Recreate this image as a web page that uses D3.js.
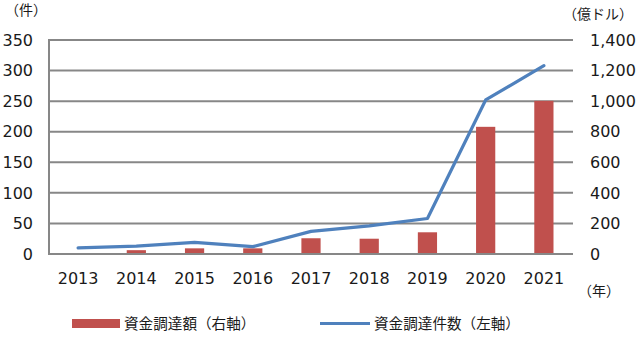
<!DOCTYPE html>
<html>
<head>
<meta charset="utf-8">
<script src="https://cdn.jsdelivr.net/npm/d3@7"></script>
<style>
  html, body { margin: 0; padding: 0; background: #fff; }
  svg { display: block; }
  .num { font-family: "DejaVu Sans", Verdana, sans-serif; font-size: 16px; fill: #1a1a1a; }
  .jp { font-family: "Noto Sans CJK JP", sans-serif; font-size: 14px; fill: #1a1a1a; }
  .lg { font-size: 14.6px; }
</style>
</head>
<body>
<svg id="chart" width="640" height="339"></svg>
<script>
// Fundraising: number of deals (left axis) and amount raised (right axis)
const years = ["2013", "2014", "2015", "2016", "2017", "2018", "2019", "2020", "2021"];
const dealCounts = [10, 13, 19, 12, 37, 46, 58, 252, 308];          // 件
const amounts = [0, 25, 37, 37, 103, 100, 142, 832, 1002];           // 億ドル
const leftTicks = [0, 50, 100, 150, 200, 250, 300, 350];
const rightTicks = [0, 200, 400, 600, 800, 1000, 1200, 1400];

const barColor = "#c0504d";
const lineColor = "#4f81bd";
const gridColor = "#878787";

const svg = d3.select("#chart");
const plot = { left: 49, right: 573, top: 40, bottom: 254 };

const x = d3.scaleBand().domain(years).range([plot.left, plot.right]);
const yL = d3.scaleLinear().domain([0, 350]).range([plot.bottom, plot.top]);
const yR = d3.scaleLinear().domain([0, 1400]).range([plot.bottom, plot.top]);
const bw = x.bandwidth();

// horizontal grid lines
svg.append("g").selectAll("line").data(leftTicks).join("line")
  .attr("x1", plot.left).attr("x2", plot.right)
  .attr("y1", d => yL(d)).attr("y2", d => yL(d))
  .attr("stroke", gridColor).attr("stroke-width", 2);

// left axis line
svg.append("line")
  .attr("x1", plot.left).attr("x2", plot.left)
  .attr("y1", yL(350) - 1).attr("y2", yL(0) + 1)
  .attr("stroke", gridColor).attr("stroke-width", 2);

// bars: amount raised
svg.append("g").selectAll("rect").data(years).join("rect")
  .attr("x", d => x(d) + bw * 0.335)
  .attr("width", bw * 0.33)
  .attr("y", (d, i) => yR(amounts[i]))
  .attr("height", (d, i) => Math.max(0, yR(0) - yR(amounts[i]) - 1))
  .attr("fill", barColor);

// line: number of deals
const line = d3.line()
  .x(d => x(d.year) + bw / 2)
  .y(d => yL(d.v));
svg.append("path")
  .datum(years.map((y, i) => ({ year: y, v: dealCounts[i] })))
  .attr("d", line)
  .attr("fill", "none")
  .attr("stroke", lineColor)
  .attr("stroke-width", 3.2)
  .attr("stroke-linejoin", "round")
  .attr("stroke-linecap", "round");

// left tick labels
const fmt = d3.format(",");
svg.append("g").selectAll("text").data(leftTicks).join("text")
  .attr("class", "num")
  .attr("x", 33).attr("y", d => yL(d)).attr("dy", "0.36em")
  .attr("text-anchor", "end")
  .text(d => d);

// right tick labels
svg.append("g").selectAll("text").data(rightTicks).join("text")
  .attr("class", "num")
  .attr("x", 590).attr("y", d => yR(d)).attr("dy", "0.36em")
  .attr("text-anchor", "start")
  .text(d => fmt(d));

// category labels
svg.append("g").selectAll("text").data(years).join("text")
  .attr("class", "num")
  .attr("x", d => x(d) + bw / 2).attr("y", 284)
  .attr("text-anchor", "middle")
  .text(d => d);

// unit labels
svg.append("text").attr("class", "jp").attr("x", 26).attr("y", 15)
  .attr("text-anchor", "middle").text("（件）");
svg.append("text").attr("class", "jp").attr("x", 598).attr("y", 19)
  .attr("text-anchor", "middle").text("（億ドル）");
svg.append("text").attr("class", "jp").attr("x", 599).attr("y", 296)
  .attr("text-anchor", "middle").text("（年）");

// legend
const lg = svg.append("g");
lg.append("rect").attr("x", 72).attr("y", 319).attr("width", 48).attr("height", 9).attr("fill", barColor);
lg.append("text").attr("class", "jp lg").attr("x", 124).attr("y", 329).text("資金調達額（右軸）");
lg.append("line").attr("x1", 320).attr("x2", 370).attr("y1", 323.5).attr("y2", 323.5)
  .attr("stroke", lineColor).attr("stroke-width", 3);
lg.append("text").attr("class", "jp lg").attr("x", 374).attr("y", 329).text("資金調達件数（左軸）");
</script>
</body>
</html>
